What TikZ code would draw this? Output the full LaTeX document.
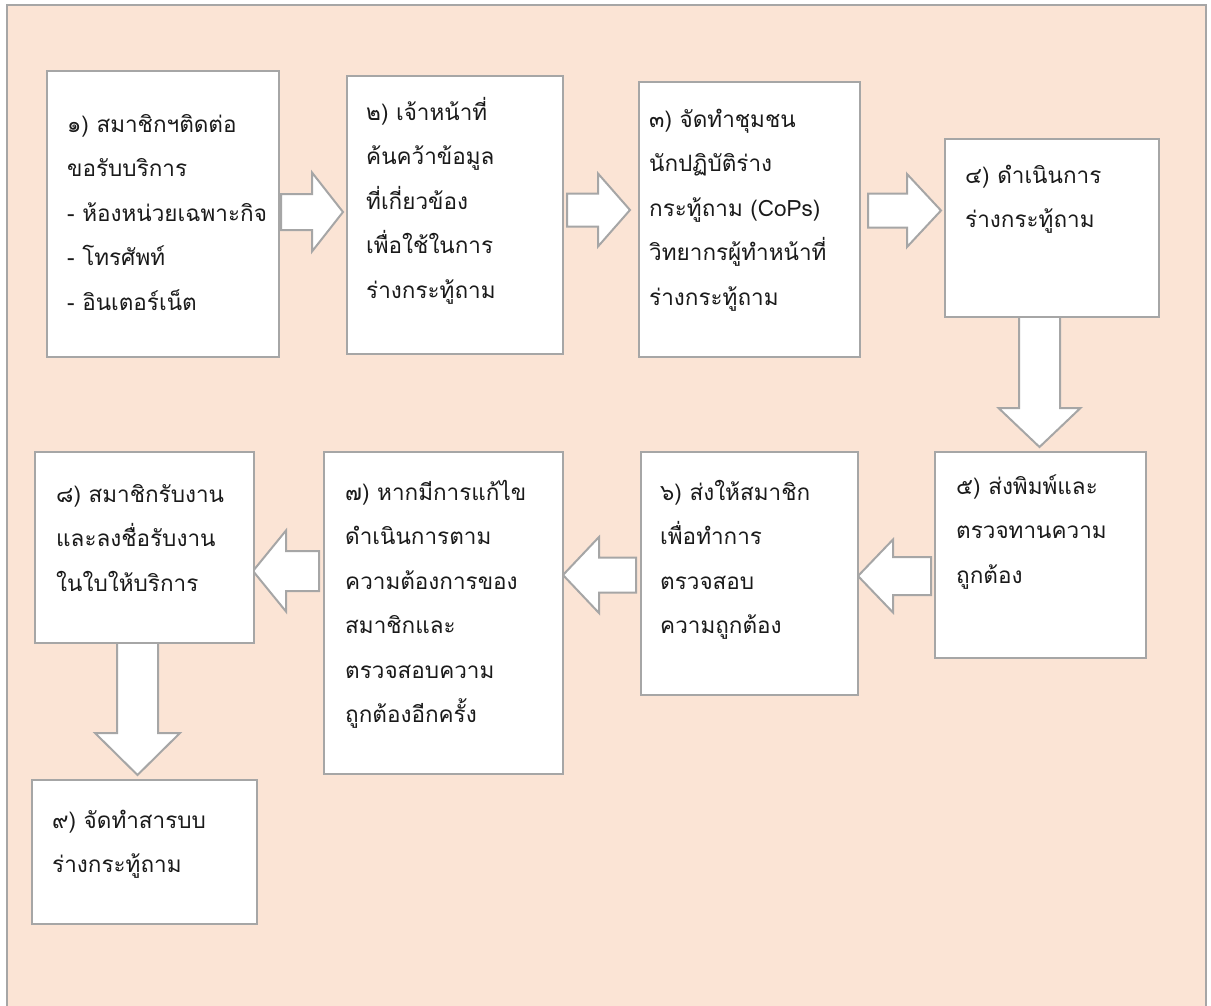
\documentclass[tikz,border=0pt]{standalone}
\usepackage{fontspec}
\newfontfamily\thaifont[Script=Thai]{Loma}
\definecolor{bgpeach}{HTML}{FBE4D5}
\definecolor{edgegray}{HTML}{A6A6A6}
\definecolor{inkcol}{HTML}{1A1A1A}
\newcommand\rarr[6]{\filldraw[blockarr] (#1,#4-#5) -- (#2,#4-#5) -- (#2,#4-#6) -- (#3,#4) -- (#2,#4+#6) -- (#2,#4+#5) -- (#1,#4+#5) -- cycle;}
\newcommand\darr[6]{\filldraw[blockarr] (#4-#5,#1) -- (#4-#5,#2) -- (#4-#6,#2) -- (#4,#3) -- (#4+#6,#2) -- (#4+#5,#2) -- (#4+#5,#1) -- cycle;}
\newcommand\tlines[1]{\begin{tabular}[t]{@{}l@{}}#1\end{tabular}}
\begin{document}
\begin{tikzpicture}[x=1pt,y=-1pt,
  stepbox/.style={draw=edgegray, line width=2.3pt, fill=white, anchor=north west, inner sep=0pt},
  blockarr/.style={draw=edgegray, line width=2pt, fill=white, line join=miter},
  txt/.style={anchor=base west, inner sep=0pt, text=inkcol, font=\thaifont\fontsize{22.5}{44.5}\selectfont}]
\useasboundingbox (0,0) rectangle (1211,1005);
\fill[white] (0,0) rectangle (1211,1005);
\begin{scope}
\clip (0,0) rectangle (1211,1005);
\filldraw[fill=bgpeach, draw=edgegray, line width=2pt] (7,5) rectangle (1206,1020);
\end{scope}
% arrows
\rarr{281}{312}{343}{212}{18}{39.5}
\rarr{567}{598}{630}{210}{16.5}{36.5}
\rarr{868}{907}{941}{210.5}{17}{36.5}
\darr{316}{408}{447}{1039.5}{20.5}{41}
\rarr{931}{893}{858}{576}{19}{36.5}
\rarr{636}{599}{563}{575}{17.5}{38}
\rarr{319}{286}{253}{571}{20}{40.5}
\darr{642}{733}{775}{137.5}{20.5}{42.5}
% boxes
\node[stepbox, minimum width=232pt, minimum height=286pt] (b1) at (46,70) {};
\node[stepbox, minimum width=216pt, minimum height=278pt] (b2) at (346,75) {};
\node[stepbox, minimum width=221pt, minimum height=275pt] (b3) at (638,81) {};
\node[stepbox, minimum width=214pt, minimum height=178pt] (b4) at (944,138) {};
\node[stepbox, minimum width=211pt, minimum height=206pt] (b5) at (934,451) {};
\node[stepbox, minimum width=217pt, minimum height=243pt] (b6) at (640,451) {};
\node[stepbox, minimum width=239pt, minimum height=322pt] (b7) at (323,451) {};
\node[stepbox, minimum width=219pt, minimum height=191pt] (b8) at (34,451) {};
\node[stepbox, minimum width=225pt, minimum height=144pt] (b9) at (31,779) {};
% texts
\node[txt] (t1) at (67,132) {\tlines{๑) สมาชิกฯติดต่อ\\ขอรับบริการ\\- ห้องหน่วยเฉพาะกิจ\\- โทรศัพท์\\- อินเตอร์เน็ต}};
\node[txt] (t2) at (366,120) {\tlines{๒) เจ้าหน้าที่\\ค้นคว้าข้อมูล\\ที่เกี่ยวข้อง\\เพื่อใช้ในการ\\ร่างกระทู้ถาม}};
\node[txt] (t3) at (649,127) {\tlines{๓) จัดทำชุมชน\\นักปฏิบัติร่าง\\กระทู้ถาม (CoPs)\\วิทยากรผู้ทำหน้าที่\\ร่างกระทู้ถาม}};
\node[txt] (t4) at (965,183) {\tlines{๔) ดำเนินการ\\ร่างกระทู้ถาม}};
\node[txt] (t5) at (956,494) {\tlines{๕) ส่งพิมพ์และ\\ตรวจทานความ\\ถูกต้อง}};
\node[txt] (t6) at (660,500) {\tlines{๖) ส่งให้สมาชิก\\เพื่อทำการ\\ตรวจสอบ\\ความถูกต้อง}};
\node[txt] (t7) at (345,500) {\tlines{๗) หากมีการแก้ไข\\ดำเนินการตาม\\ความต้องการของ\\สมาชิกและ\\ตรวจสอบความ\\ถูกต้องอีกครั้ง}};
\node[txt] (t8) at (56,502) {\tlines{๘) สมาชิกรับงาน\\และลงชื่อรับงาน\\ในใบให้บริการ}};
\node[txt] (t9) at (52,828) {\tlines{๙) จัดทำสารบบ\\ร่างกระทู้ถาม}};
\end{tikzpicture}
\end{document}
